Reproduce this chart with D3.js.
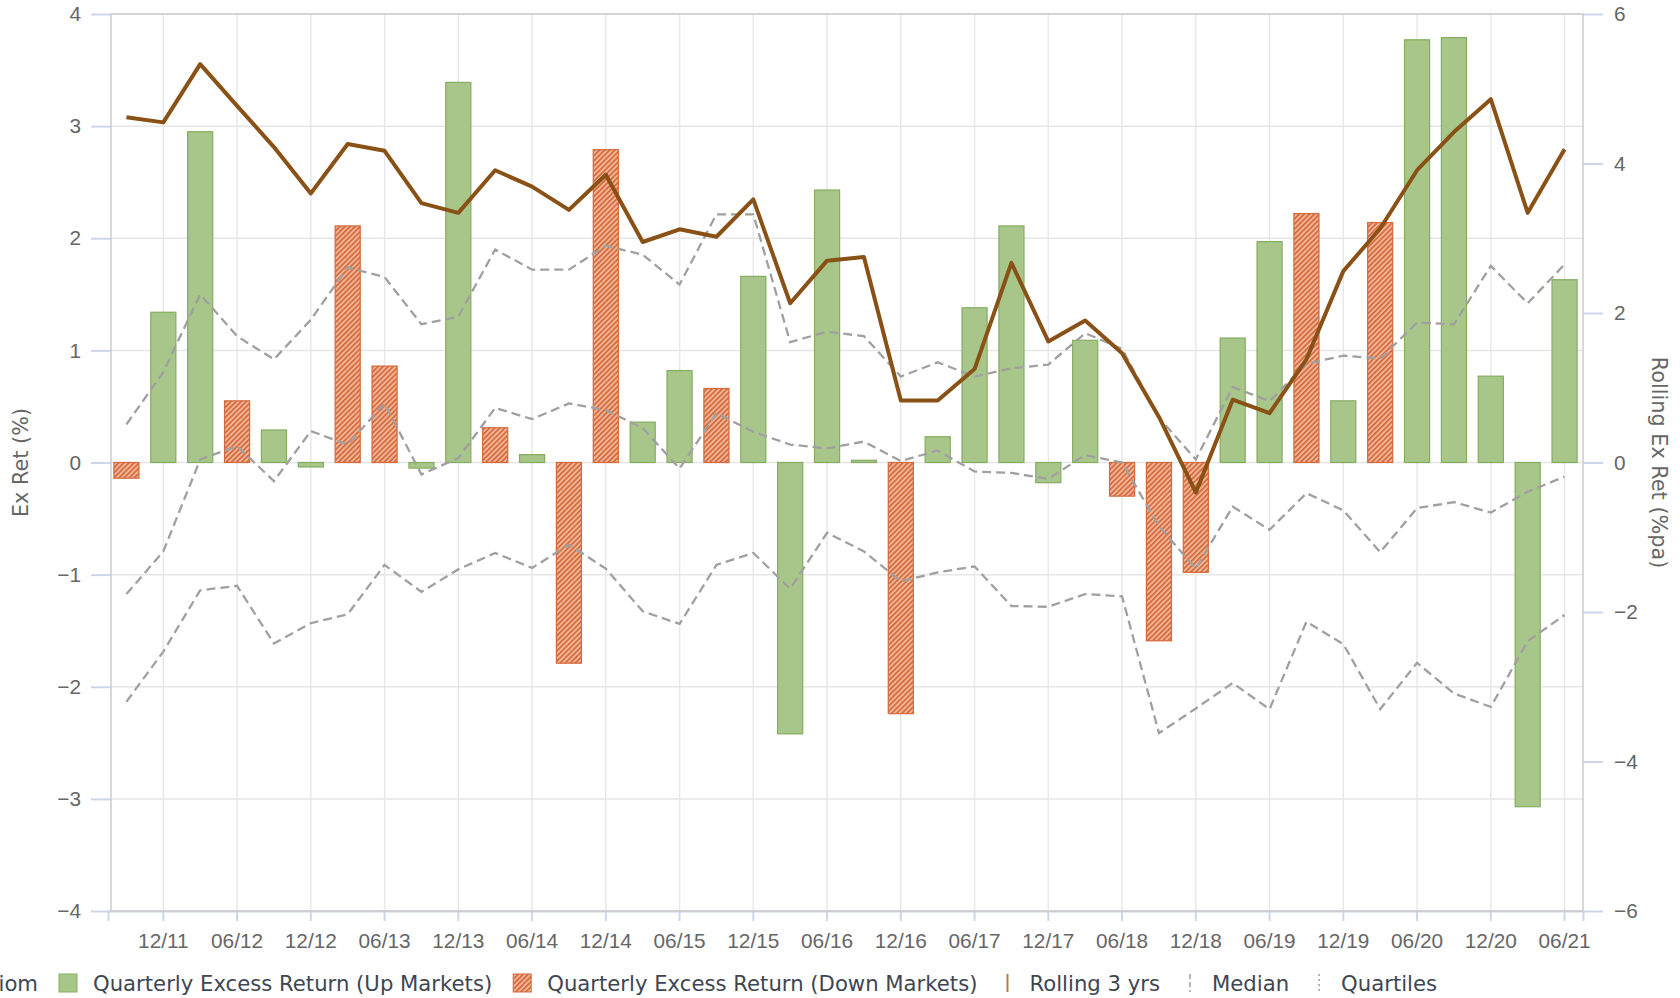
<!DOCTYPE html>
<html>
<head>
<meta charset="utf-8">
<script src="https://cdn.jsdelivr.net/npm/d3@7/dist/d3.min.js"></script>
<style>
  body { margin: 0; background: #fff; }
  svg { display: block; font-family: "DejaVu Sans", Verdana, sans-serif; }
</style>
</head>
<body>
<svg id="grafico" width="1680" height="998"></svg>
<script>
// Dados
let trimestres = ["09/11", "12/11", "03/12", "06/12", "09/12", "12/12", "03/13", "06/13", "09/13", "12/13",
  "03/14", "06/14", "09/14", "12/14", "03/15", "06/15", "09/15", "12/15", "03/16", "06/16",
  "09/16", "12/16", "03/17", "06/17", "09/17", "12/17", "03/18", "06/18", "09/18", "12/18",
  "03/19", "06/19", "09/19", "12/19", "03/20", "06/20", "09/20", "12/20", "03/21", "06/21"];

// retorno trimestral em excesso (%)
let retornoTrimestral = [-0.14, 1.34, 2.95, 0.55, 0.29, -0.04, 2.11, 0.86, -0.05, 3.39,
  0.31, 0.07, -1.79, 2.79, 0.36, 0.82, 0.66, 1.66, -2.42, 2.43,
  0.02, -2.24, 0.23, 1.38, 2.11, -0.18, 1.09, -0.30, -1.59, -0.98,
  1.11, 1.97, 2.22, 0.55, 2.14, 3.77, 3.79, 0.77, -3.07, 1.63];

// U = mercado em alta, D = mercado em baixa
let mercado = ["D", "U", "U", "D", "U", "U", "D", "D", "U", "U",
  "D", "U", "D", "D", "U", "U", "D", "U", "U", "U",
  "U", "D", "U", "U", "U", "U", "U", "D", "D", "D",
  "U", "U", "D", "U", "D", "U", "U", "U", "U", "U"];

// retorno móvel 3 anos (%pa)
let rolling3 = [4.62, 4.55, 5.33, 4.77, 4.22, 3.60, 4.26, 4.17, 3.47, 3.34,
  3.91, 3.69, 3.38, 3.85, 2.95, 3.12, 3.02, 3.52, 2.13, 2.70,
  2.75, 0.83, 0.83, 1.25, 2.67, 1.62, 1.90, 1.46, 0.61, -0.40,
  0.84, 0.66, 1.38, 2.56, 3.13, 3.91, 4.42, 4.86, 3.34, 4.19];

let quartilSuperior = [0.51, 1.21, 2.25, 1.69, 1.38, 1.91, 2.61, 2.48, 1.85, 1.95,
  2.85, 2.58, 2.58, 2.90, 2.78, 2.38, 3.32, 3.32, 1.61, 1.75,
  1.69, 1.15, 1.34, 1.15, 1.26, 1.31, 1.73, 1.52, 0.60, 0.04,
  1.01, 0.82, 1.32, 1.43, 1.39, 1.87, 1.85, 2.63, 2.13, 2.65];

let mediana = [-1.76, -1.19, 0.04, 0.22, -0.25, 0.42, 0.24, 0.79, -0.16, 0.06,
  0.73, 0.58, 0.79, 0.70, 0.46, -0.08, 0.66, 0.41, 0.24, 0.19,
  0.28, 0.02, 0.16, -0.12, -0.14, -0.22, 0.10, 0.00, -0.85, -1.42,
  -0.59, -0.90, -0.41, -0.64, -1.20, -0.61, -0.53, -0.67, -0.39, -0.19];

let quartilInferior = [-3.20, -2.53, -1.71, -1.65, -2.42, -2.15, -2.03, -1.37, -1.73, -1.43,
  -1.21, -1.41, -1.10, -1.42, -1.99, -2.16, -1.37, -1.21, -1.69, -0.94,
  -1.19, -1.59, -1.47, -1.39, -1.92, -1.93, -1.76, -1.79, -3.62, -3.29,
  -2.95, -3.30, -2.13, -2.43, -3.30, -2.68, -3.09, -3.27, -2.39, -2.04];

let ticksEsquerda = [-4, -3, -2, -1, 0, 1, 2, 3, 4];
let ticksDireita = [-6, -4, -2, 0, 2, 4, 6];
let titulos = ["Ex Ret (%)", "Rolling Ex Ret (%pa)"];
let legendas = ["Quarterly Excess Return (Up Markets)", "Quarterly Excess Return (Down Markets)",
  "Rolling 3 yrs", "Median", "Quartiles"];

// Cores
let verde = "#a8c68a", verdeBorda = "#84ad60";
let laranja = "#d4693c", laranjaClaro = "#f2b596";
let marrom = "#8a5116", cinza = "#a0a0a0";
let corTexto = "#666666";

let svg = d3.select("#grafico");
let esq = 111, dir = 1583, topo = 14, base = 911;

let defs = svg.append("defs");
let hachura = defs
  .append("pattern")
  .attr("id", "hachura")
  .attr("patternUnits", "userSpaceOnUse")
  .attr("width", 3.6)
  .attr("height", 3.6)
  .attr("patternTransform", "rotate(45)");
hachura.append("rect").attr("width", 3.6).attr("height", 3.6).attr("fill", laranjaClaro);
hachura.append("rect").attr("width", 1.7).attr("height", 3.6).attr("fill", laranja);

// Escalas
let fnX = d3
  .scaleBand()
  .domain(trimestres)
  .range([esq - 3, dir])
  .paddingInner(0.32)
  .paddingOuter(0.16);
let fnY = d3.scaleLinear().domain([-4, 4]).range([base, topo]);
let fnY2 = d3.scaleLinear().domain([-6, 6]).range([base, topo]);
let centro = (d) => fnX(d) + fnX.bandwidth() / 2;
let rotulosX = trimestres.filter((d, i) => i % 2 === 1);

// Grade
svg
  .selectAll(".gradeH")
  .data(ticksEsquerda)
  .enter()
  .append("line")
  .attr("x1", esq)
  .attr("x2", dir)
  .attr("y1", (d) => fnY(d))
  .attr("y2", (d) => fnY(d))
  .attr("stroke", "#e6e6e6")
  .attr("stroke-width", 1.5);
svg
  .selectAll(".gradeV")
  .data(rotulosX)
  .enter()
  .append("line")
  .attr("x1", (d) => centro(d))
  .attr("x2", (d) => centro(d))
  .attr("y1", topo)
  .attr("y2", base)
  .attr("stroke", "#e6e8ee")
  .attr("stroke-width", 1.5);

// Eixos
let eixoX = svg
  .append("g")
  .attr("transform", `translate(0,${base})`)
  .call(d3.axisBottom(fnX).tickValues(rotulosX).tickSize(10).tickPadding(12));
eixoX.select(".domain").attr("stroke", "#ccd6eb").attr("stroke-width", 2);

let eixoY = svg
  .append("g")
  .attr("transform", `translate(${esq},0)`)
  .call(d3.axisLeft(fnY).tickValues(ticksEsquerda).tickSize(20).tickPadding(10));
let eixoY2 = svg
  .append("g")
  .attr("transform", `translate(${dir},0)`)
  .call(d3.axisRight(fnY2).tickValues(ticksDireita).tickSize(20).tickPadding(11));
eixoY.select(".domain").remove();
eixoY2.select(".domain").remove();

svg
  .selectAll(".tick line")
  .attr("stroke", "#ccd6eb")
  .attr("stroke-width", 2);
svg
  .selectAll(".tick text")
  .attr("fill", corTexto)
  .style("font-size", "20.8px");

// Borda da plotagem
svg
  .append("rect")
  .attr("x", esq)
  .attr("y", topo)
  .attr("width", dir - esq)
  .attr("height", base - topo)
  .attr("fill", "none")
  .attr("stroke", "#cccccc")
  .attr("stroke-width", 1.5);

// Barras
svg
  .selectAll(".barra")
  .data(retornoTrimestral)
  .enter()
  .append("rect")
  .classed("barra", true)
  .attr("x", (d, i) => fnX(trimestres[i]))
  .attr("y", (d) => fnY(Math.max(d, 0)))
  .attr("width", fnX.bandwidth())
  .attr("height", (d) => Math.abs(fnY(d) - fnY(0)))
  .attr("fill", (d, i) => (mercado[i] === "U" ? verde : "url(#hachura)"))
  .attr("stroke", (d, i) => (mercado[i] === "U" ? verdeBorda : laranja))
  .attr("stroke-width", 1.2);

// Linhas
let linha = d3
  .line()
  .x((d, i) => centro(trimestres[i]))
  .y((d) => fnY2(d));

[quartilSuperior, mediana, quartilInferior].forEach((serie) => {
  svg
    .append("path")
    .attr("d", linha(serie))
    .attr("fill", "none")
    .attr("stroke", cinza)
    .attr("stroke-width", 2.3)
    .attr("stroke-dasharray", "9,5");
});

svg
  .append("path")
  .attr("d", linha(rolling3))
  .attr("fill", "none")
  .attr("stroke", marrom)
  .attr("stroke-width", 4)
  .attr("stroke-linejoin", "round");

// Títulos dos eixos
svg
  .append("text")
  .attr("transform", `translate(28,${(topo + base) / 2}) rotate(-90)`)
  .attr("text-anchor", "middle")
  .attr("fill", corTexto)
  .style("font-size", "20.8px")
  .text(titulos[0]);
svg
  .append("text")
  .attr("transform", `translate(1652,${(topo + base) / 2}) rotate(90)`)
  .attr("text-anchor", "middle")
  .attr("fill", corTexto)
  .style("font-size", "20.8px")
  .text(titulos[1]);

// Legenda
let legenda = svg.append("g").attr("transform", "translate(0,983)");
legenda
  .append("text")
  .attr("x", 38)
  .attr("dy", "0.36em")
  .attr("text-anchor", "end")
  .attr("fill", "#3e4652")
  .style("font-size", "21.2px")
  .text("iom");

let posX = 59;
legendas.forEach((nome, i) => {
  let item = legenda.append("g").attr("transform", `translate(${posX},0)`);
  if (i === 0 || i === 1) {
    item
      .append("rect")
      .attr("x", 0)
      .attr("y", -9)
      .attr("width", 18)
      .attr("height", 18)
      .attr("fill", i === 0 ? verde : "url(#hachura)")
      .attr("stroke", i === 0 ? verdeBorda : laranja)
      .attr("stroke-width", 1);
  } else {
    item
      .append("line")
      .attr("x1", 9)
      .attr("x2", 9)
      .attr("y1", -9)
      .attr("y2", 9)
      .attr("stroke", i === 2 ? "#b87a3c" : cinza)
      .attr("stroke-width", i === 2 ? 2 : 1.5)
      .attr("stroke-dasharray", i === 3 ? "5,3" : i === 4 ? "2,3" : null);
  }
  let texto = item
    .append("text")
    .attr("x", i < 2 ? 34 : 31)
    .attr("dy", "0.36em")
    .attr("fill", "#3e4652")
    .style("font-size", "21.2px")
    .text(nome);
  posX += (i < 2 ? 34 : 31) + texto.node().getComputedTextLength() + 21;
});
</script>
</body>
</html>
